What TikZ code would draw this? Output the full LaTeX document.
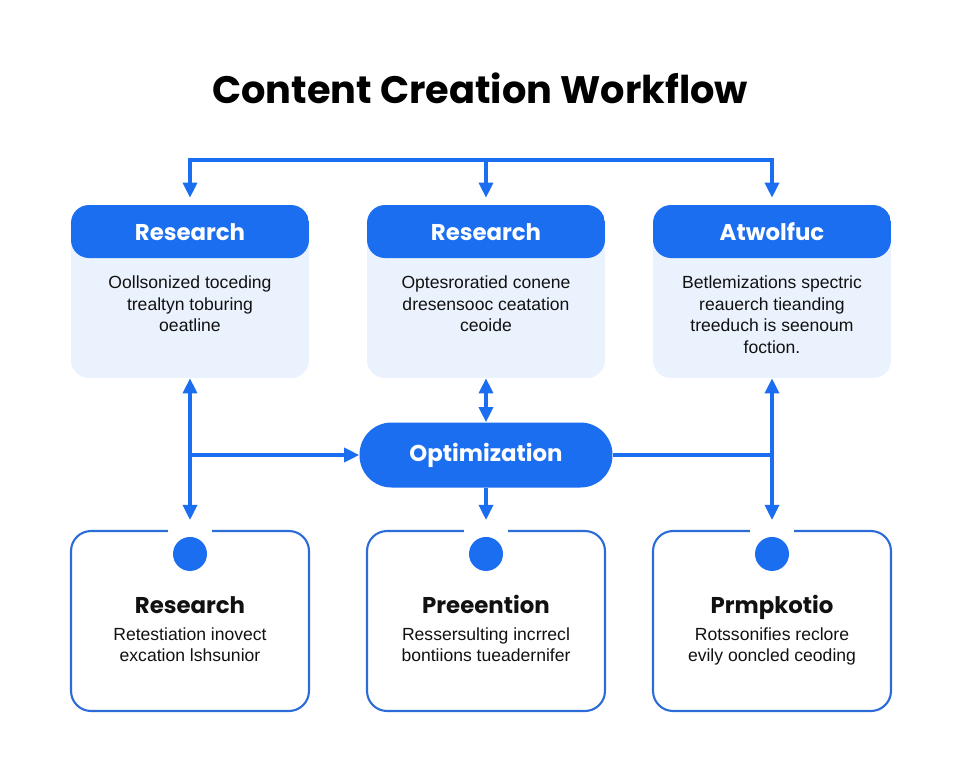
\documentclass[tikz,border=0pt]{standalone}
\usepackage{fontspec}
\setmainfont{Liberation Sans}
\newfontfamily\headfont{Poppins}
\usetikzlibrary{arrows.meta}
\definecolor{wfblue}{HTML}{1B6EF0}
\definecolor{wfpale}{HTML}{EAF2FD}
\definecolor{wfline}{HTML}{2C6CD9}
\definecolor{wfink}{HTML}{111111}

\begin{document}
\begin{tikzpicture}[x=0.02cm,y=-0.02cm,>={Triangle[length=3mm,width=2.8mm]},
		link/.style={draw=wfblue,line width=1.9pt},
		card/.style={rounded corners=0.36cm,minimum width=4.76cm,minimum height=3.46cm,fill=wfpale,
			path picture={\fill[wfblue] (path picture bounding box.north west) rectangle ([yshift=-1.06cm]path picture bounding box.north east);}},
		tile/.style={rounded corners=0.4cm,minimum width=4.76cm,minimum height=3.6cm,fill=white,draw=wfline,line width=1.2pt},
		pill/.style={rounded corners=0.64cm,minimum width=5.06cm,minimum height=1.3cm,fill=wfblue,text=white,font=\headfont\bfseries\fontsize{13}{15}\selectfont},
		head/.style={font=\headfont\bfseries\fontsize{13}{15}\selectfont,text=white,text height=1.6ex,text depth=0.5ex},
		tilehead/.style={font=\headfont\bfseries\fontsize{13}{15}\selectfont,text=wfink,text height=1.6ex,text depth=0.5ex},
		body/.style={font=\fontsize{10}{12.2}\selectfont,text=wfink,align=center,inner sep=0pt,anchor=north},
		dot/.style={circle,fill=wfblue,minimum size=0.68cm,inner sep=0pt}]
	\fill[white] (0,0) rectangle (960,768);
	\node[font=\headfont\bfseries\fontsize{21.8}{25}\selectfont,text=black] (title) at (480,88) {Content Creation Workflow};

	% top row
	\node[card] (t1) at (190,291.5) {};
	\node[card] (t2) at (486,291.5) {};
	\node[card] (t3) at (772,291.5) {};
	\node[head] (h1) at ([yshift=-0.62cm]t1.north) {Research};
	\node[head] (h2) at ([yshift=-0.62cm]t2.north) {Research};
	\node[head] (h3) at ([yshift=-0.62cm]t3.north) {Atwolfuc};
	\node[body] (x1) at ([yshift=-1.42cm]t1.north) {Oollsonized toceding\\trealtyn toburing\\oeatline};
	\node[body] (x2) at ([yshift=-1.42cm]t2.north) {Optesroratied conene\\dresensooc ceatation\\ceoide};
	\node[body] (x3) at ([yshift=-1.42cm]t3.north) {Betlemizations spectric\\reauerch tieanding\\treeduch is seenoum\\foction.};

	% middle
	\node[pill] (opt) at (486,455) {Optimization};

	% bottom row
	\node[tile] (b1) at (190,621) {};
	\node[tile] (b2) at (486,621) {};
	\node[tile] (b3) at (772,621) {};
	\foreach \b in {b1,b2,b3}{
		\fill[white] ([xshift=-0.44cm,yshift=0.06cm]\b.north) rectangle ([xshift=0.44cm,yshift=-0.06cm]\b.north);
		\node[dot] (\b d) at ([yshift=-0.48cm]\b.north) {};
	}
	\node[tilehead] (g1) at ([yshift=-1.56cm]b1.north) {Research};
	\node[tilehead] (g2) at ([yshift=-1.56cm]b2.north) {Preeention};
	\node[tilehead] (g3) at ([yshift=-1.56cm]b3.north) {Prmpkotio};
	\node[body] (y1) at ([yshift=-1.94cm]b1.north) {Retestiation inovect\\excation lshsunior};
	\node[body] (y2) at ([yshift=-1.94cm]b2.north) {Ressersulting incrrecl\\bontiions tueadernifer};
	\node[body] (y3) at ([yshift=-1.94cm]b3.north) {Rotssonifies reclore\\evily ooncled ceoding};

	% connectors
	\coordinate (bar) at (486,160);
	\draw[link,->,shorten >=0.14cm] (bar) -| (t1.north);
	\draw[link,->,shorten >=0.14cm] (bar) -| (t3.north);
	\draw[link,->,shorten >=0.14cm] (bar) -- (t2.north);
	\draw[link,<->,shorten >=0.2cm] (t1.south) -- (b1.north);
	\draw[link,<->,shorten >=0.2cm] (t3.south) -- (b3.north);
	\draw[link,<->] (t2.south) -- (opt.north);
	\draw[link,->,shorten >=0.2cm] (opt.south) -- (b2.north);
	\draw[link,->] (t1.south |- opt) -- (opt.west);
	\draw[link] (opt.east) -- (t3.south |- opt);
\end{tikzpicture}
\end{document}
